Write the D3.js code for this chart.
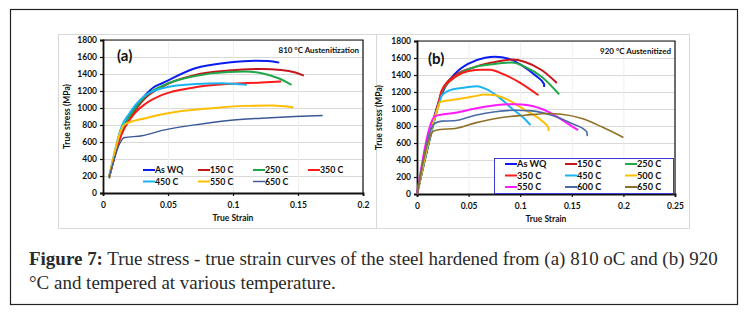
<!DOCTYPE html>
<html><head><meta charset="utf-8">
<script src="https://cdn.jsdelivr.net/npm/d3@7"></script>
<style>body{margin:0;background:#fff}svg{display:block}</style>
</head><body>
<svg id="c" width="750" height="315"></svg>
<script>
// ---------- data ----------
const yTicks = [0,200,400,600,800,1000,1200,1400,1600,1800];
const xTicksA = [0,0.05,0.1,0.15,0.2];
const xTicksB = [0,0.05,0.1,0.15,0.2,0.25];
const xTickLabelsA = ["0","0.05","0.1","0.15","0.2"];
const xTickLabelsB = ["0","0.05","0.1","0.15","0.2","0.25"];

// Panel (a) 810 °C
const seriesA = ["As WQ","150 C","250 C","350 C","450 C","550 C","650 C"];
const colorsA = ["#0a1cf0","#c4161c","#1fa84a","#ff1a1a","#1ab4f0","#ffbf00","#3a5897"];
const a_AsWQ = [[0.0046,176],[0.014,700],[0.02,900],[0.025,1017],[0.0327,1154],[0.039,1244],[0.0455,1291],[0.071,1467],[0.0966,1534],[0.117,1557],[0.127,1553],[0.1356,1534]];
const a_150 = [[0.0046,176],[0.014,690],[0.02,870],[0.025,980],[0.0327,1120],[0.0455,1252],[0.071,1389],[0.0966,1440],[0.122,1460],[0.137,1448],[0.148,1417],[0.1545,1381]];
const a_250 = [[0.0046,176],[0.014,700],[0.02,890],[0.025,1000],[0.0327,1140],[0.0455,1260],[0.071,1377],[0.0966,1424],[0.109,1428],[0.122,1409],[0.135,1350],[0.145,1272]];
const a_350 = [[0.0046,176],[0.014,680],[0.02,850],[0.025,950],[0.0327,1050],[0.0455,1154],[0.071,1244],[0.0966,1283],[0.122,1299],[0.137,1311]];
const a_450 = [[0.0046,176],[0.0145,790],[0.02,930],[0.025,1037],[0.0327,1150],[0.0455,1233],[0.071,1283],[0.0914,1291],[0.1106,1272]];
const a_550 = [[0.0046,176],[0.0145,760],[0.016,800],[0.0327,880],[0.058,959],[0.0838,998],[0.109,1025],[0.13,1029],[0.1464,1010]];
const a_650 = [[0.0046,176],[0.0135,600],[0.016,650],[0.030,673],[0.0455,736],[0.071,802],[0.0966,853],[0.122,880],[0.1476,900],[0.169,912]];
const dataA = [a_AsWQ,a_150,a_250,a_350,a_450,a_550,a_650];

// Panel (b) 920 °C
const seriesB = ["As WQ","150 C","250 C","350 C","450 C","500 C","550 C","600 C","650 C"];
const colorsB = ["#0a1cf0","#c4161c","#1fa84a","#ff1a1a","#1ab4f0","#ffbf00","#ff1aff","#4a6aa8","#8e7028"];
const b_AsWQ = [[0,0],[0.021,1080],[0.0274,1260],[0.037,1417],[0.05,1534],[0.066,1604],[0.0758,1616],[0.0887,1593],[0.1016,1514],[0.1145,1397],[0.1232,1291],[0.1232,1260]];
const b_150 = [[0,0],[0.021,1080],[0.0242,1221],[0.037,1397],[0.0565,1495],[0.0726,1546],[0.0919,1581],[0.1048,1553],[0.121,1456],[0.1355,1307]];
const b_250 = [[0,0],[0.021,1060],[0.0242,1201],[0.037,1377],[0.0565,1495],[0.0726,1526],[0.0919,1546],[0.1048,1495],[0.121,1377],[0.1377,1174]];
const b_350 = [[0,0],[0.021,1080],[0.0242,1221],[0.037,1377],[0.05,1448],[0.0629,1463],[0.071,1463],[0.0823,1417],[0.0984,1319],[0.1177,1162]];
const b_450 = [[0,0],[0.021,1045],[0.0242,1162],[0.0339,1229],[0.0468,1252],[0.058,1268],[0.066,1240],[0.079,1143],[0.0919,1006],[0.105,877],[0.11,810]];
const b_500 = [[0,0],[0.0194,986],[0.0226,1084],[0.037,1111],[0.0532,1143],[0.066,1170],[0.0758,1162],[0.0887,1104],[0.1048,986],[0.121,861],[0.1274,779],[0.1274,740]];
const b_550 = [[0,0],[0.0177,916],[0.037,955],[0.0565,1006],[0.0758,1045],[0.0952,1057],[0.108,1045],[0.1274,967],[0.1435,849],[0.156,751]];
const b_600 = [[0,0],[0.0171,830],[0.0242,857],[0.0355,861],[0.0565,927],[0.0758,967],[0.0952,986],[0.111,978],[0.1306,927],[0.15,830],[0.1645,732],[0.165,681]];
const b_650 = [[0,0],[0.0161,740],[0.0226,759],[0.037,771],[0.0565,837],[0.0823,900],[0.1048,927],[0.1274,947],[0.14,939],[0.16,888],[0.179,790],[0.2,665]];
const dataB = [b_AsWQ,b_150,b_250,b_350,b_450,b_500,b_550,b_600,b_650];

const titleA = "810 °C Austenitization";
const titleB = "920 °C Austenitized";
const captionBold = "Figure 7:";
const captionRest1 = " True stress - true strain curves of the steel hardened from (a) 810 oC and (b) 920";
const captionLine2 = "°C and tempered at various temperature.";

// ---------- drawing ----------
const svg = d3.select("#c");
const FONT = "Lato, 'Open Sans', sans-serif";

// outer figure frame
svg.append("rect").attr("x",10.5).attr("y",9.5).attr("width",727).attr("height",295)
  .attr("fill","#fff").attr("stroke","#222").attr("stroke-width",1.2);
// panel frames
svg.append("rect").attr("x",58.5).attr("y",34.5).attr("width",318).attr("height",194)
  .attr("fill","#fff").attr("stroke","#d9d9d9");
svg.append("rect").attr("x",376.5).attr("y",34.5).attr("width",313).attr("height",194)
  .attr("fill","#fff").attr("stroke","#d9d9d9");

function panel(opt){
  const g = svg.append("g");
  const x = d3.scaleLinear().domain([0,opt.xmax]).range([opt.x0,opt.x1]);
  const y = d3.scaleLinear().domain([0,1800]).range([opt.y0,opt.y1]);
  // gridlines
  g.append("g").selectAll("line").data(yTicks.slice(1)).join("line")
    .attr("x1",opt.x0).attr("x2",opt.x1).attr("y1",d=>y(d)+0.5).attr("y2",d=>y(d)+0.5)
    .attr("stroke","#d9d9d9").attr("stroke-width",1);
  g.append("g").selectAll("line").data(opt.xticks.slice(1)).join("line")
    .attr("y1",opt.y0).attr("y2",opt.y1).attr("x1",d=>x(d)+0.5).attr("x2",d=>x(d)+0.5)
    .attr("stroke","#efefef").attr("stroke-width",1);
  // plot border (top/right)
  g.append("path").attr("d",`M${opt.x0},${opt.y1}H${opt.x1}V${opt.y0}`)
    .attr("fill","none").attr("stroke","#111").attr("stroke-width",1.2);
  // axes
  const ya = d3.axisLeft(y).tickValues(yTicks).tickSize(3).tickPadding(3).tickFormat(d3.format("d"));
  const xa = d3.axisBottom(x).tickValues(opt.xticks).tickSize(3).tickPadding(6)
    .tickFormat((d,i)=>opt.xlabels[i]);
  const gy = g.append("g").attr("transform",`translate(${opt.x0},0)`).call(ya);
  const gx = g.append("g").attr("transform",`translate(0,${opt.y0})`).call(xa);
  [gy,gx].forEach(a=>{
    a.select(".domain").attr("stroke","#111").attr("stroke-width",1.8);
    a.selectAll(".tick line").attr("stroke","#111").attr("stroke-width",1.2);
    a.selectAll("text").attr("font-family",FONT).attr("font-weight","bold")
      .attr("font-size",8.5).attr("fill","#111");
  });
  // axis titles
  g.append("text").attr("transform",`translate(${opt.ytx},${(opt.y0+opt.y1)/2}) rotate(-90)`)
    .attr("text-anchor","middle").attr("font-family",FONT).attr("font-weight","bold")
    .attr("font-size",8.5).attr("fill","#111").text("True stress (MPa)");
  g.append("text").attr("x",(opt.x0+opt.x1)/2).attr("y",opt.y0+28)
    .attr("text-anchor","middle").attr("font-family",FONT).attr("font-weight","bold")
    .attr("font-size",8.5).attr("fill","#111").text("True Strain");
  // curves
  const line = d3.line().x(d=>x(d[0])).y(d=>y(d[1])).curve(d3.curveMonotoneX);
  opt.data.forEach((s,i)=>{
    g.append("path").attr("d",line(s)).attr("fill","none")
      .attr("stroke",opt.colors[i]).attr("stroke-width",opt.widths ? opt.widths[i] : 1.8)
      .attr("stroke-linejoin","round");
  });
  // letter and title
  g.append("text").attr("x",opt.lx).attr("y",opt.ly).attr("font-family",FONT)
    .attr("font-weight","bold").attr("font-size",15).attr("fill","#111").text(opt.letter);
  g.append("text").attr("x",opt.x1-4).attr("y",opt.y1+13).attr("text-anchor","end")
    .attr("font-family",FONT).attr("font-weight","bold").attr("font-size",8)
    .attr("fill","#111").text(opt.title);
  return {g,x,y};
}

const pA = panel({x0:103,x1:363,y0:193,y1:40,xmax:0.2,xticks:xTicksA,xlabels:xTickLabelsA,
  ytx:70,data:dataA,colors:colorsA,widths:[2,2,2,2,2,2,1.4],letter:"(a)",lx:117,ly:61,title:titleA});
const pB = panel({x0:417,x1:675,y0:194,y1:41,xmax:0.25,xticks:xTicksB,xlabels:xTickLabelsB,
  ytx:382,data:dataB,colors:colorsB,widths:[2,2,2,2,2,2,2,1.6,1.6],letter:"(b)",lx:428,ly:64,title:titleB});

// legends
function legend(names,colors,x0,dx,y0,dy,ncol,fs,widths){
  const lg = svg.append("g");
  names.forEach((n,i)=>{
    const cx = x0 + (i%ncol)*dx, cy = y0 + Math.floor(i/ncol)*dy;
    lg.append("line").attr("x1",cx).attr("x2",cx+12).attr("y1",cy).attr("y2",cy)
      .attr("stroke",colors[i]).attr("stroke-width",widths?widths[i]:2);
    lg.append("text").attr("x",cx+12).attr("y",cy+3.2).attr("font-family",FONT)
      .attr("font-weight","bold").attr("font-size",fs).attr("fill","#111").text(n);
  });
}
legend(seriesA,colorsA,143,55,170,11.5,4,8.8,[2,2,2,2,2,2,1.4]);
svg.append("rect").attr("x",494.5).attr("y",158.5).attr("width",179).attr("height",35)
  .attr("fill","#fff").attr("stroke","#3b3bd6").attr("stroke-width",1);
legend(seriesB,colorsB,505,60,164,11.5,3,9.2);

// caption
const CAPFONT = "'Liberation Serif','DejaVu Serif',serif";
const cap = svg.append("text").attr("x",29).attr("y",265)
  .attr("font-family",CAPFONT).attr("fill","#2a2a2a");
cap.append("tspan").attr("font-weight","bold").text(captionBold);
cap.append("tspan").text(captionRest1);
const cap2 = svg.append("text").attr("x",29).attr("y",289)
  .attr("font-family",CAPFONT).attr("fill","#2a2a2a").text(captionLine2);
cap.attr("font-size",16);
const w = cap.node().getComputedTextLength();
const fs = 16*689/w;
cap.attr("font-size",fs); cap2.attr("font-size",fs);
</script>
</body></html>
